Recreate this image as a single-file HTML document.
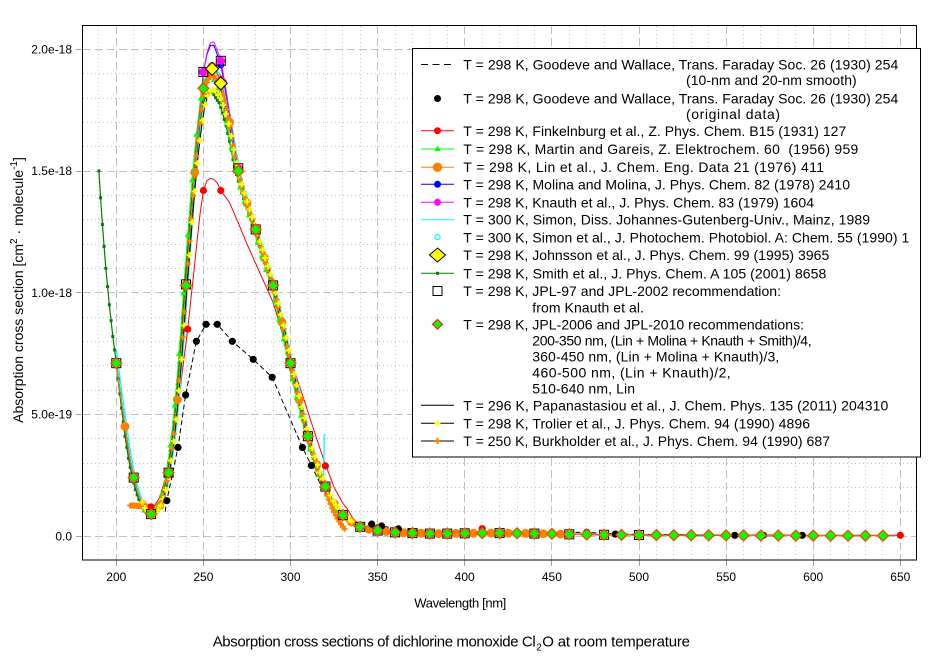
<!DOCTYPE html>
<html><head><meta charset="utf-8">
<style>
html,body{margin:0;padding:0;background:#fff;width:942px;height:659px;overflow:hidden}
svg{display:block;font-family:"Liberation Sans",Arial,sans-serif}
</style></head><body>
<svg id="s" width="942" height="659" viewBox="0 0 942 659" xmlns="http://www.w3.org/2000/svg">
<rect width="942" height="659" fill="#fff"/>
<defs><clipPath id="c"><rect x="82.5" y="25.5" width="834" height="534.5"/></clipPath></defs>
<!-- minor grid -->
<path fill="none" stroke="#c4c4c4" stroke-width="1" stroke-dasharray="1,3" d="M98.5 26V560M133.5 26V560M151.5 26V560M168.5 26V560M186.5 26V560M220.5 26V560M238.5 26V560M255.5 26V560M273.5 26V560M307.5 26V560M325.5 26V560M342.5 26V560M360.5 26V560M395.5 26V560M412.5 26V560M429.5 26V560M447.5 26V560M482.5 26V560M499.5 26V560M517.5 26V560M534.5 26V560M569.5 26V560M586.5 26V560M604.5 26V560M621.5 26V560M656.5 26V560M673.5 26V560M691.5 26V560M708.5 26V560M743.5 26V560M760.5 26V560M778.5 26V560M795.5 26V560M830.5 26V560M848.5 26V560M865.5 26V560M882.5 26V560
M83 511.5H916M83 487.5H916M83 463.5H916M83 438.5H916M83 390.5H916M83 365.5H916M83 341.5H916M83 317.5H916M83 268.5H916M83 244.5H916M83 219.5H916M83 195.5H916M83 146.5H916M83 122.5H916M83 98.5H916M83 73.5H916"/>
<!-- major grid -->
<path fill="none" stroke="#c0c0c0" stroke-width="1" stroke-dasharray="8,4" d="M116.5 26V560M203.5 26V560M290.5 26V560M377.5 26V560M464.5 26V560M551.5 26V560M639.5 26V560M726.5 26V560M813.5 26V560M900.5 26V560M83 536.5H916M83 414.5H916M83 292.5H916M83 171.5H916M83 49.5H916"/>
<!-- ticks -->
<path fill="none" stroke="#a0a0a0" stroke-width="1" d="M76 536.5H82M76 414.5H82M76 292.5H82M76 171.5H82M76 49.5H82M116.5 560V566M203.5 560V566M290.5 560V566M377.5 560V566M464.5 560V566M551.5 560V566M639.5 560V566M726.5 560V566M813.5 560V566M900.5 560V566"/>
<g id="plot" clip-path="url(#c)"></g>
<rect x="82.5" y="25.5" width="834" height="534.5" fill="none" stroke="#000" stroke-width="1"/>
<!-- tick labels -->
<g font-size="12" fill="#000" text-anchor="middle">
<text x="116.3" y="581">200</text><text x="203.4" y="581">250</text><text x="290.5" y="581">300</text><text x="377.6" y="581">350</text><text x="464.7" y="581">400</text><text x="551.9" y="581">450</text><text x="639" y="581">500</text><text x="726.1" y="581">550</text><text x="813.2" y="581">600</text><text x="900.3" y="581">650</text>
</g>
<g font-size="12" fill="#000" text-anchor="end">
<text x="72" y="540.3">0.0</text><text x="72" y="418.5">5.0e-19</text><text x="72" y="296.9">1.0e-18</text><text x="72" y="175.2">1.5e-18</text><text x="72" y="53.5">2.0e-18</text>
</g>
<!-- axis labels -->
<text x="414.3" y="607.3" font-size="13" textLength="92" lengthAdjust="spacing">Wavelength [nm]</text>
<text transform="translate(23,290) rotate(-90)" text-anchor="middle" font-size="14">Absorption cross section [cm<tspan dy="-6" font-size="10">2</tspan><tspan dy="6"> · molecule</tspan><tspan dy="-6" font-size="10">-1</tspan><tspan dy="6">]</tspan></text>
<text x="212.7" y="646.7" font-size="15" textLength="323" lengthAdjust="spacing">Absorption cross sections of dichlorine monoxide Cl</text>
<text x="536.3" y="650.5" font-size="10">2</text>
<text x="542.3" y="646.7" font-size="15" textLength="147.7" lengthAdjust="spacing">O at room temperature</text>
<!-- legend -->
<rect x="412.5" y="48.5" width="508" height="408.5" fill="#fff" stroke="#000" stroke-width="1"/>
<g stroke-width="1" fill="none">
<line x1="421" y1="64.5" x2="451" y2="64.5" stroke="#000" stroke-dasharray="7,4.5"/>
<line x1="421" y1="130.7" x2="454" y2="130.7" stroke="#ff0000"/>
<line x1="421" y1="149" x2="454" y2="149" stroke="#00ff00"/>
<line x1="421" y1="167.3" x2="454" y2="167.3" stroke="#ff8000"/>
<line x1="421" y1="184.3" x2="454" y2="184.3" stroke="#0000ff"/>
<line x1="421" y1="202.3" x2="454" y2="202.3" stroke="#ff00ff"/>
<line x1="421" y1="219.7" x2="454" y2="219.7" stroke="#00ffff"/>
<line x1="421" y1="273.3" x2="454" y2="273.3" stroke="#008000"/>
<line x1="421" y1="405.3" x2="454" y2="405.3" stroke="#000"/>
<line x1="421" y1="423.3" x2="454" y2="423.3" stroke="#000"/>
<line x1="421" y1="441" x2="454" y2="441" stroke="#000"/>
</g>
<circle cx="437.5" cy="98.5" r="3.5" fill="#000"/>
<circle cx="437.5" cy="130.7" r="3.5" fill="#ff0000"/>
<path d="M437.5 145.8L440.8 151.3L434.2 151.3Z" fill="#00ff00"/>
<circle cx="437.5" cy="167.3" r="4.7" fill="#ff8000"/>
<circle cx="437.5" cy="184.3" r="3.5" fill="#0000ff"/>
<circle cx="437.5" cy="202.3" r="3.5" fill="#ff00ff"/>
<circle cx="437.5" cy="237" r="2.6" fill="none" stroke="#00ffff" stroke-width="1.2"/>
<path d="M437.5 248L445.5 255L437.5 262L429.5 255Z" fill="#ffff00" stroke="#000" stroke-width="1"/>
<rect x="436" y="271.8" width="3" height="3" fill="#008000"/>
<rect x="433" y="286.5" width="9" height="9" fill="#fff" stroke="#000" stroke-width="1"/>
<path d="M437.5 319.5L442.5 324.3L437.5 329.1L432.5 324.3Z" fill="#00ff00" stroke="#ff2000" stroke-width="1.2"/>
<path d="M434.5 423.3H440.5M437.5 420.3V426.3" stroke="#ffff00" stroke-width="2"/>
<path d="M434.5 441H440.5M437.5 438V444" stroke="#ff8000" stroke-width="2"/>
<g font-size="14" fill="#000">
<text x="463.3" y="69.3" textLength="435" lengthAdjust="spacing">T = 298 K, Goodeve and Wallace, Trans. Faraday Soc. 26 (1930) 254</text>
<text x="686" y="85" textLength="170.7" lengthAdjust="spacing">(10-nm and 20-nm smooth)</text>
<text x="463.3" y="103.3" textLength="435" lengthAdjust="spacing">T = 298 K, Goodeve and Wallace, Trans. Faraday Soc. 26 (1930) 254</text>
<text x="686" y="119" textLength="94" lengthAdjust="spacing">(original data)</text>
<text x="463.3" y="136" textLength="383" lengthAdjust="spacing">T = 298 K, Finkelnburg et al., Z. Phys. Chem. B15 (1931) 127</text>
<text x="463.3" y="154" textLength="395" lengthAdjust="spacing">T = 298 K, Martin and Gareis, Z. Elektrochem. 60&#160; (1956) 959</text>
<text x="463.3" y="172" textLength="360.7" lengthAdjust="spacing">T = 298 K, Lin et al., J. Chem. Eng. Data 21 (1976) 411</text>
<text x="463.3" y="189.7" textLength="386.7" lengthAdjust="spacing">T = 298 K, Molina and Molina, J. Phys. Chem. 82 (1978) 2410</text>
<text x="463.3" y="207.3" textLength="350.7" lengthAdjust="spacing">T = 298 K, Knauth et al., J. Phys. Chem. 83 (1979) 1604</text>
<text x="463.3" y="224.7" textLength="406.7" lengthAdjust="spacing">T = 300 K, Simon, Diss. Johannes-Gutenberg-Univ., Mainz, 1989</text>
<text x="463.3" y="242.3" textLength="446" lengthAdjust="spacing">T = 300 K, Simon et al., J. Photochem. Photobiol. A: Chem. 55 (1990) 1</text>
<text x="463.3" y="260" textLength="366" lengthAdjust="spacing">T = 298 K, Johnsson et al., J. Phys. Chem. 99 (1995) 3965</text>
<text x="463.3" y="278.3" textLength="363" lengthAdjust="spacing">T = 298 K, Smith et al., J. Phys. Chem. A 105 (2001) 8658</text>
<text x="463.3" y="296" textLength="317.7" lengthAdjust="spacing">T = 298 K, JPL-97 and JPL-2002 recommendation:</text>
<text x="532.3" y="312.3" textLength="111.7" lengthAdjust="spacing">from Knauth et al.</text>
<text x="463.3" y="329.7" textLength="340.7" lengthAdjust="spacing">T = 298 K, JPL-2006 and JPL-2010 recommendations:</text>
<text x="532.3" y="345.7" textLength="279.3" lengthAdjust="spacing">200-350 nm, (Lin + Molina + Knauth + Smith)/4,</text>
<text x="532.3" y="361.7" textLength="247" lengthAdjust="spacing">360-450 nm, (Lin + Molina + Knauth)/3,</text>
<text x="532.3" y="377.7" textLength="198.4" lengthAdjust="spacing">460-500 nm, (Lin + Knauth)/2,</text>
<text x="532.3" y="393.7" textLength="102.7" lengthAdjust="spacing">510-640 nm, Lin</text>
<text x="463.3" y="410.3" textLength="425" lengthAdjust="spacing">T = 296 K, Papanastasiou et al., J. Chem. Phys. 135 (2011) 204310</text>
<text x="463.3" y="428.7" textLength="346.7" lengthAdjust="spacing">T = 298 K, Trolier et al., J. Phys. Chem. 94 (1990) 4896</text>
<text x="463.3" y="446" textLength="366.7" lengthAdjust="spacing">T = 250 K, Burkholder et al., J. Phys. Chem. 94 (1990) 687</text>
</g>
</svg>
<script>
(function(){
var NS="http://www.w3.org/2000/svg";
var P=document.getElementById('plot');
function X(l){return 116.3+(l-200)*1.7422;}
function Y(s){return 536-s*2.4333;}
function interp(t){return function(l){if(l<=t[0][0])return t[0][1];for(var i=1;i<t.length;i++){if(l<=t[i][0]){var a=t[i-1],b=t[i];return a[1]+(b[1]-a[1])*(l-a[0])/(b[0]-a[0]);}}return t[t.length-1][1];};}
var base=interp([[190,150],[192,128],[194,110],[196,95],[198,82],[200,71],[202,60],[204,50],[206,40],[208,31],[210,24],[212,18.5],[214,14.5],[216,11.5],[218,9.8],[220,9],[222,9.5],[224,11],[226,14],[228,19],[230,26],[232,36],[234,48],[236,64],[238,82],[240,103],[242,122],[244,141],[246,158],[248,172],[250,184],[252,190],[254,193],[256,193],[258,190],[260,187],[262,181],[264,174],[266,166],[268,157],[270,150],[272,144],[274,139],[276,134.5],[278,130],[280,126],[282,121],[284,116.5],[286,112],[288,107.5],[290,103],[292,97],[294,91],[296,85],[298,78],[300,71],[302,65],[304,59],[306,53],[308,47],[310,41],[312,36],[314,31.5],[316,27],[318,23.5],[320,20.3],[322,17.3],[324,14.5],[326,12.2],[328,10.3],[330,8.6],[332,7.3],[334,6.2],[336,5.3],[338,4.5],[340,3.8],[345,2.8],[350,2.2],[360,1.5],[370,1.2],[380,1.0],[390,1.0],[400,1.1],[410,1.2],[420,1.2],[430,1.1],[440,1.0],[450,0.9],[460,0.7],[470,0.6],[480,0.5],[490,0.45],[500,0.4],[550,0.25],[600,0.15],[650,0.1]]);
var fink=interp([[215,14],[218,12.5],[220,12],[222,12.5],[225,16],[230,28],[235,50],[238,68],[241,85],[245,112],[248,132],[250,142],[252,146],[254,147],[256,146.5],[258,145],[260,142],[263,139],[265,137],[268,132],[271,127],[275,120],[280,112],[285,104],[290,96],[295,84],[300,72],[305,62],[310,51],[315,40],[320,29.5],[325,20],[330,13.5],[333,10.7],[336,7],[340,4.5],[345,3],[350,2.2],[400,1.2],[500,0.5],[600,0.3],[650,0.3]]);
var goodT=[[228,10],[229,14.5],[235.4,36.4],[239.8,58],[246,80],[251.5,87],[258,87],[266.6,80],[278.6,72.6],[289.5,65.2],[306.8,36.4],[312,29],[320,17],[330,8],[340,5],[346.6,4.9],[352.3,4.1],[361.9,2.9],[380,2],[420,1.6],[470,1.5],[486.4,0.8],[555,0.3],[600,0.3]];
function g(l,c,w){var z=(l-c)/w;return Math.exp(-z*z);}
function add(n,a){var e=document.createElementNS(NS,n);for(var k in a)e.setAttribute(k,a[k]);P.appendChild(e);return e;}
function range(a,b,s){var r=[];for(var l=a;l<=b+1e-6;l+=s)r.push(Math.round(l*1000)/1000);return r;}
function poly(f,a,b,st,stroke,w,extra){var d='';range(a,b,st).forEach(function(l){d+=(d?'L':'M')+X(l).toFixed(1)+','+Y(f(l)).toFixed(1);});var at={d:d,fill:'none',stroke:stroke,'stroke-width':w||1};if(extra)for(var k in extra)at[k]=extra[k];add('path',at);}
function polyT(t,stroke,w,extra){var d='';t.forEach(function(p){d+=(d?'L':'M')+X(p[0]).toFixed(1)+','+Y(p[1]).toFixed(1);});var at={d:d,fill:'none',stroke:stroke,'stroke-width':w||1};if(extra)for(var k in extra)at[k]=extra[k];add('path',at);}
function marks(f,list,draw){list.forEach(function(l){draw(X(l),Y(f(l)));});}
function circ(fill,r){return function(x,y){add('circle',{cx:x.toFixed(1),cy:y.toFixed(1),r:r,fill:fill});};}
function sq(x,y){add('rect',{x:(x-4.5).toFixed(1),y:(y-4.5).toFixed(1),width:9,height:9,fill:'none',stroke:'#000','stroke-width':1});}
function dia(fill,stroke,h,sw){return function(x,y){add('path',{d:'M'+x.toFixed(1)+','+(y-h).toFixed(1)+'L'+(x+h).toFixed(1)+','+y.toFixed(1)+'L'+x.toFixed(1)+','+(y+h).toFixed(1)+'L'+(x-h).toFixed(1)+','+y.toFixed(1)+'Z',fill:fill,stroke:stroke,'stroke-width':sw});};}
function tri(x,y){add('path',{d:'M'+x.toFixed(1)+','+(y-3.5).toFixed(1)+'L'+(x+3).toFixed(1)+','+(y+2).toFixed(1)+'L'+(x-3).toFixed(1)+','+(y+2).toFixed(1)+'Z',fill:'#00ff00'});}
function cross(c){return function(x,y){add('path',{d:'M'+(x-3).toFixed(1)+','+y.toFixed(1)+'H'+(x+3).toFixed(1)+'M'+x.toFixed(1)+','+(y-3).toFixed(1)+'V'+(y+3).toFixed(1),stroke:c,'stroke-width':2,fill:'none'});};}
function smallsq(x,y){add('rect',{x:(x-1.5).toFixed(1),y:(y-1.5).toFixed(1),width:3,height:3,fill:'#008000'});}

var knauth=function(l){return base(l)*(1+0.052*g(l,256,10));};
var molina=function(l){return base(l)*(1+0.045*g(l,255,10));};
var smith=function(l){var sh=l<=200?0:Math.min(0.8,(l-200)*0.16);return base(l+sh)*(1-0.055*g(l,255,12));};
var martin=function(l){return base(l+1.2)*(1-0.02*g(l,255,10));};
var trolier=function(l){return base(l-0.5)*(1-0.05*g(l,255,12));};
var simon=function(l){return base(l-1);};
var burk=function(l){if(l<219)return 12+(219-l)*0.05;var v=base(l)*(1-0.02*g(l,255,12));if(l>314){var q=(l-314)/16;v*=1-0.55*q*q;}return v;};

/* Goodeve smoothed dashed */
polyT(goodT,'#000',1,{'stroke-dasharray':'5,3'});
/* Finkelnburg */
poly(fink,215,650,1,'#ff0000',1);
/* Simon line with spike */
var d='';range(200,319.4,1).forEach(function(l){d+=(d?'L':'M')+X(l).toFixed(1)+','+Y(simon(l)).toFixed(1);});
d+='L'+X(319.4).toFixed(1)+','+Y(42).toFixed(1);
add('path',{d:d,fill:'none',stroke:'#00ffff','stroke-width':1.3});
/* Papanastasiou */
poly(base,200,580,1,'#000',1.3);
/* Molina */
poly(molina,200,500,1,'#0000ff',1);
marks(molina,range(200,500,10),circ('#0000ff',3.5));
/* Knauth */
poly(knauth,200,500,1,'#ff00ff',1);
marks(knauth,range(200,500,10),circ('#ff00ff',4.2));
/* Trolier & Burkholder black connecting lines */
poly(trolier,215,335,1.5,'#000',1);
poly(burk,219,331,1,'#000',1);
/* Smith */
poly(smith,190,400,1,'#008000',1.2);
marks(smith,range(190,360,1),smallsq);
/* Lin */
poly(base,200,640,1,'#ff8000',1);
marks(base,range(200,460,5).concat(range(470,640,10)),circ('#ff8000',4.5));
/* Martin */
poly(martin,215,330,1,'#00ff00',1);
marks(martin,range(216,330,2.5),tri);
/* Burkholder */
marks(burk,range(208,331,1),cross('#ff8000'));
/* Trolier */
marks(trolier,range(215,335,1.5),cross('#ffff00'));
/* Goodeve original dots */
goodT.slice(1).forEach(function(p){if(p[0]<=600&&p[0]!==380&&p[0]!==420&&p[0]!==320&&p[0]!==330&&p[0]!==340)add('circle',{cx:X(p[0]).toFixed(1),cy:Y(p[1]).toFixed(1),r:3.6,fill:'#000'});});
[[571.4,0.3],[593.7,0.3]].forEach(function(p){add('circle',{cx:X(p[0]).toFixed(1),cy:Y(p[1]).toFixed(1),r:3.6,fill:'#000'});});
/* Finkelnburg dots */
[[220,12],[241,85],[250,142],[260,142],[320,28.8],[410,3],[650,0.3]].forEach(function(p){add('circle',{cx:X(p[0]).toFixed(1),cy:Y(p[1]).toFixed(1),r:3.6,fill:'#ff0000'});});
/* JPL-97 squares */
marks(knauth,range(200,400,10).concat([420,440,460,480,500]),sq);
/* JPL-2006 diamonds */
marks(base,range(200,640,10),dia('#00ff00','#ff4000',5.5,1.2));
/* Johnsson */
[[255,192],[260,186]].forEach(function(p){dia('#ffff00','#000',6.5,1)(X(p[0]),Y(p[1]));});
})();
</script>
</body></html>
